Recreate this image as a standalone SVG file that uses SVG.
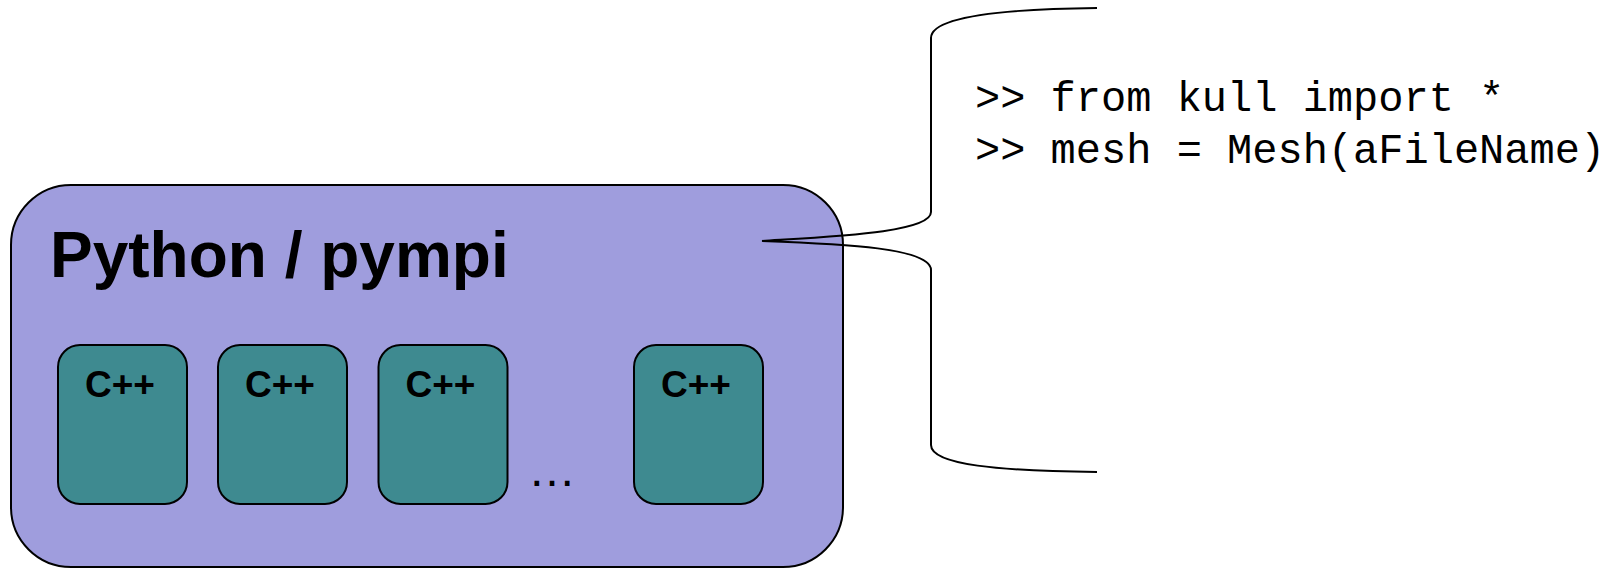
<svg xmlns="http://www.w3.org/2000/svg" width="1622" height="568" viewBox="0 0 1622 568">
<style>
.outer{fill:#9f9ddd;stroke:#000;stroke-width:2}
.cpp{fill:#3e8a90;stroke:#000;stroke-width:2}
.lbl{font-family:"Liberation Sans",Arial,sans-serif;font-weight:bold;fill:#000}
.code{font-family:"Liberation Mono","Courier New",monospace;font-size:42px;fill:#000}
.brace{fill:none;stroke:#000;stroke-width:2}
</style>
<rect width="1622" height="568" fill="#fff"/>
<g id="python">
<rect class="outer" x="11" y="185" width="832" height="382" rx="60" ry="60"/>
<text class="lbl" x="50" y="277" font-size="64">Python / pympi</text>
<text x="528" y="486" font-size="48" font-family="Liberation Sans, Arial, sans-serif" fill="#000">…</text>
</g>
<g id="cpp1">
<rect class="cpp" x="58" y="345" width="129" height="159" rx="22" ry="22"/>
<text class="lbl" x="120" y="397" font-size="37" text-anchor="middle">C++</text>
</g>
<g id="cpp2">
<rect class="cpp" x="218" y="345" width="129" height="159" rx="22" ry="22"/>
<text class="lbl" x="280" y="397" font-size="37" text-anchor="middle">C++</text>
</g>
<g id="cpp3">
<rect class="cpp" x="378.5" y="345" width="129" height="159" rx="22" ry="22"/>
<text class="lbl" x="440.5" y="397" font-size="37" text-anchor="middle">C++</text>
</g>
<g id="cpp4">
<rect class="cpp" x="634" y="345" width="129" height="159" rx="22" ry="22"/>
<text class="lbl" x="696" y="397" font-size="37" text-anchor="middle">C++</text>
</g>
<g id="connectors">
<path class="brace" d="M1097,8 C1000,9 931,17 931,38 L931,212 C931,232 840,236 762,241 C845,244 931,248 931,270 L931,445 C931,465 1000,471 1097,472"/>
</g>
<g id="code">
<text class="code" x="975" y="111">&gt;&gt; from kull import *</text>
<text class="code" x="975" y="163">&gt;&gt; mesh = Mesh(aFileName)</text>
</g>
</svg>
